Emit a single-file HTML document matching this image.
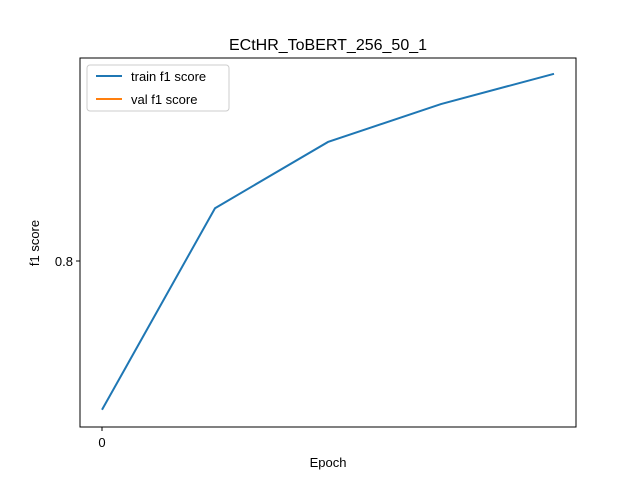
<!DOCTYPE html>
<html><head><meta charset="utf-8"><style>
body{margin:0;background:#fff;font-family:"Liberation Sans","DejaVu Sans",sans-serif;}
</style></head><body>
<svg width="640" height="480" xmlns="http://www.w3.org/2000/svg">
<rect width="640" height="480" fill="#fff"/>
<text x="328" y="50" font-size="16" text-anchor="middle" fill="#000">ECtHR_ToBERT_256_50_1</text>
<g id="plot"></g>
<rect x="80" y="58" width="496" height="369" fill="none" stroke="#000" stroke-width="1"/>
<text x="328" y="467" font-size="13" text-anchor="middle">Epoch</text>
<text transform="translate(39,243) rotate(-90)" font-size="13" text-anchor="middle">f1 score</text>
<g>
<rect x="87" y="65" width="142" height="46" rx="3" fill="#fff" stroke="#ccc"/>
<line x1="96" y1="76" x2="122" y2="76" stroke="#1f77b4" stroke-width="2"/>
<text x="131" y="81" font-size="13">train f1 score</text>
<line x1="96" y1="99" x2="122" y2="99" stroke="#ff7f0e" stroke-width="2"/>
<text x="131" y="104" font-size="13">val f1 score</text>
</g>
</svg>
<script>
const epochs=[0,1,2,3,4];
const trainF1=[0.738,0.822,0.8496,0.8654,0.878];
const valF1=[];
const xTicks=[0];
const yTicks=[0.8];
const g=document.getElementById('plot');
const NS='http://www.w3.org/2000/svg';
const x=v=>102+v*113;
const y=v=>261-(v-0.8)*2400;
let pts=trainF1.map((v,i)=>x(epochs[i])+','+y(v)).join(' ');
const pl=document.createElementNS(NS,'polyline');
pl.setAttribute('points',pts);pl.setAttribute('fill','none');pl.setAttribute('stroke','#1f77b4');pl.setAttribute('stroke-width','2');


g.appendChild(pl);
xTicks.forEach(t=>{
const l=document.createElementNS(NS,'line');
l.setAttribute('x1',x(t));l.setAttribute('x2',x(t));l.setAttribute('y1',427);l.setAttribute('y2',431);l.setAttribute('stroke','#000');


g.appendChild(l);
const tx=document.createElementNS(NS,'text');
tx.setAttribute('x',x(t));tx.setAttribute('y',447);tx.setAttribute('font-size','13');tx.setAttribute('text-anchor','middle');tx.textContent=t;


g.appendChild(tx);
});
yTicks.forEach(t=>{
const l=document.createElementNS(NS,'line');
l.setAttribute('x1',76);l.setAttribute('x2',80);l.setAttribute('y1',y(t));l.setAttribute('y2',y(t));l.setAttribute('stroke','#000');


g.appendChild(l);
const tx=document.createElementNS(NS,'text');
tx.setAttribute('x',73);tx.setAttribute('y',y(t)+5);tx.setAttribute('font-size','13');tx.setAttribute('text-anchor','end');tx.textContent=t.toFixed(1);


g.appendChild(tx);
});
</script>
</body></html>
